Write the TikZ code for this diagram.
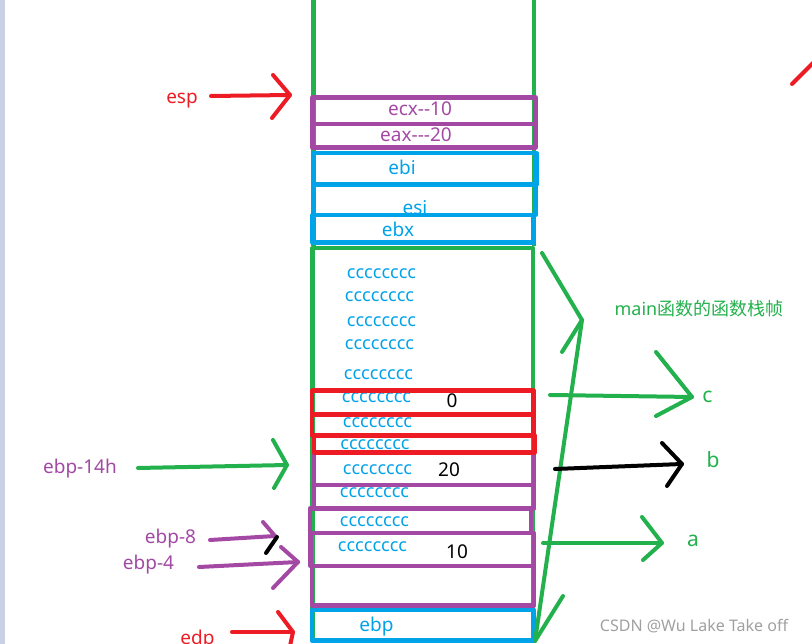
\documentclass[tikz,border=0pt]{standalone}
\usepackage{fontspec}
\setmainfont{Noto Sans}
\newfontfamily\cjk{Noto Sans CJK SC}
\definecolor{pgreen}{HTML}{22B14C}
\definecolor{ppurple}{HTML}{A349A4}
\definecolor{pblue}{HTML}{00A2E8}
\definecolor{pred}{HTML}{ED1C24}
\definecolor{strip}{HTML}{C8D2E4}
\definecolor{wm}{HTML}{A0A0A0}
\begin{document}
\begin{tikzpicture}[x=1pt,y=-1pt,line join=round,
  box/.style={line width=4.5pt},
  stroke/.style={line width=4pt,line cap=round},
  lbl/.style={inner sep=0pt,anchor=center,font=\fontsize{18}{18}\selectfont},
  reg/.style={inner sep=0pt,anchor=center,font=\fontsize{19}{19}\selectfont},
  big/.style={inner sep=0pt,anchor=center,font=\fontsize{21}{21}\selectfont},
  cc/.style={lbl,text=pblue},
]
\useasboundingbox (0,0) rectangle (812,644);
\fill[strip] (0,0) rectangle (5,644);

% ---------- texts inside the stack ----------
\node[reg,text=ppurple] (ecx) at (420,108.5) {ecx-{}-10};
\node[reg,text=ppurple] (eax) at (416,135) {eax-{}-{}-20};
\node[reg,text=pblue] (ebi) at (402,167) {ebi};
\node[reg,text=pblue] (esi) at (415,208) {esi};
\node[reg,text=pblue] (ebx) at (398,229) {ebx};
\node[cc] (c1) at (381.5,273.5) {cccccccc};
\node[cc] (c2) at (379.5,297) {cccccccc};
\node[cc] (c3) at (381.5,321.5) {cccccccc};
\node[cc] (c4) at (379.5,344.5) {cccccccc};
\node[cc] (c5) at (378.5,374.5) {cccccccc};
\node[cc] (c6) at (376.5,398) {cccccccc};
\node[cc] (c7) at (377.5,423) {cccccccc};
\node[cc] (c8) at (375,445) {cccccccc};
\node[cc] (c9) at (377.5,470) {cccccccc};
\node[cc] (c10) at (374.5,493) {cccccccc};
\node[cc] (c11) at (374.5,522) {cccccccc};
\node[cc] (c12) at (372.5,547) {cccccccc};
\node[reg] (v0) at (452,400.5) {0};
\node[reg] (v20) at (449,470) {20};
\node[reg] (v10) at (457,551.5) {10};
\node[reg,text=pblue] (ebp) at (376.5,626.5) {ebp};

% ---------- stack frame and boxes ----------
\draw[box,pgreen] (313.5,-5) -- (313.5,246) (534,-5) -- (534,246);
\draw[box,pgreen] (312.5,248) rectangle (533,640);
\draw[box,pblue] (313.5,153) rectangle (536.5,184.5);
\draw[box,pblue] (314,184.5) rectangle (535.5,215);
\draw[box,ppurple] (312.5,97.5) rectangle (535.5,124);
\draw[box,ppurple] (312.5,124) rectangle (535.5,147.5);
\draw[box,pblue] (312.5,215) rectangle (533.5,242.5);
\draw[box,ppurple] (314,452.5) rectangle (534,485);
\draw[box,ppurple] (314,485) rectangle (534,508.5);
\draw[box,ppurple] (310,508.5) rectangle (531,533);
\draw[box,ppurple] (310.5,533) rectangle (534,566);
\draw[box,ppurple] (312,566) rectangle (534,605.5);
\draw[box,pred] (312,390.5) rectangle (533.5,414.5);
\draw[box,pred] (312,414.5) rectangle (533.5,435.5);
\draw[box,pred] (314,435.5) rectangle (534.5,452.5);
\draw[box,pblue] (312,610) rectangle (534,640.5);

% ---------- left pointers ----------
\node[reg,text=pred] (esp) at (182,101) {esp};
\coordinate (espA) at (211,96); \coordinate (espB) at (290,95);
\draw[stroke,pred] (espA) -- (espB);
\draw[stroke,pred] (273,75) -- (espB) -- (272,118);

\node[reg,text=ppurple] (e14) at (80,468.5) {ebp-14h};
\coordinate (e14A) at (138,468); \coordinate (e14B) at (287,465);
\draw[stroke,pgreen] (e14A) -- (e14B);
\draw[stroke,pgreen] (273,440) -- (e14B) -- (274,488);

\node[reg,text=ppurple] (e8) at (170.5,538.5) {ebp-8};
\coordinate (e8A) at (210,540); \coordinate (e8B) at (275,536);
\draw[stroke,ppurple] (e8A) -- (e8B);
\draw[stroke,ppurple] (263,522) -- (e8B);
\draw[stroke,black] (277,537) -- (266,553);

\node[reg,text=ppurple] (e4) at (148.5,565) {ebp-4};
\coordinate (e4A) at (199,567); \coordinate (e4B) at (298,562);
\draw[stroke,ppurple] (e4A) -- (e4B);
\draw[stroke,ppurple] (281,547) -- (e4B) -- (273,588);

\node[reg,text=pred,anchor=base] (edp) at (197.5,644) {edp};
\coordinate (edpA) at (232,632); \coordinate (edpB) at (293,632);
\draw[stroke,pred] (edpA) -- (edpB);
\draw[stroke,pred] (278,612) -- (edpB) -- (290,646);

% ---------- right side ----------
\coordinate (brT) at (542,253); \coordinate (brM) at (582,320); \coordinate (brB) at (535,641);
\draw[stroke,pgreen] (brT) -- (brM) -- (brB);
\draw[stroke,pgreen] (brM) -- (562,352);
\draw[stroke,pgreen] (brB) -- (563,596);
\node[lbl,text=pgreen] (mainf) at (699,308.5) {main{\cjk 函数的函数栈帧}};

\node[big,text=pgreen] (lc) at (707.5,397) {c};
\coordinate (cA) at (550,395); \coordinate (cB) at (692,397);
\draw[stroke,pgreen] (cA) -- (cB);
\draw[stroke,pgreen] (656,352) -- (cB) -- (656,416);

\node[big,text=pgreen] (lb) at (713,460) {b};
\coordinate (bA) at (555,469); \coordinate (bB) at (682,464);
\draw[stroke,black] (bA) -- (bB);
\draw[stroke,black] (662,443) -- (bB) -- (667,486);

\node[big,text=pgreen] (la) at (693,541) {a};
\coordinate (aA) at (543,543); \coordinate (aB) at (662,543);
\draw[stroke,pgreen] (aA) -- (aB);
\draw[stroke,pgreen] (642,517) -- (aB) -- (643,560);

\coordinate (rA) at (792,84); \coordinate (rB) at (814,62);
\draw[stroke,pred] (rA) -- (rB);

\node[inner sep=0pt,text=wm,font=\fontsize{16}{16}\selectfont] (wmk) at (694,626) {CSDN @Wu Lake Take off};
\end{tikzpicture}
\end{document}
